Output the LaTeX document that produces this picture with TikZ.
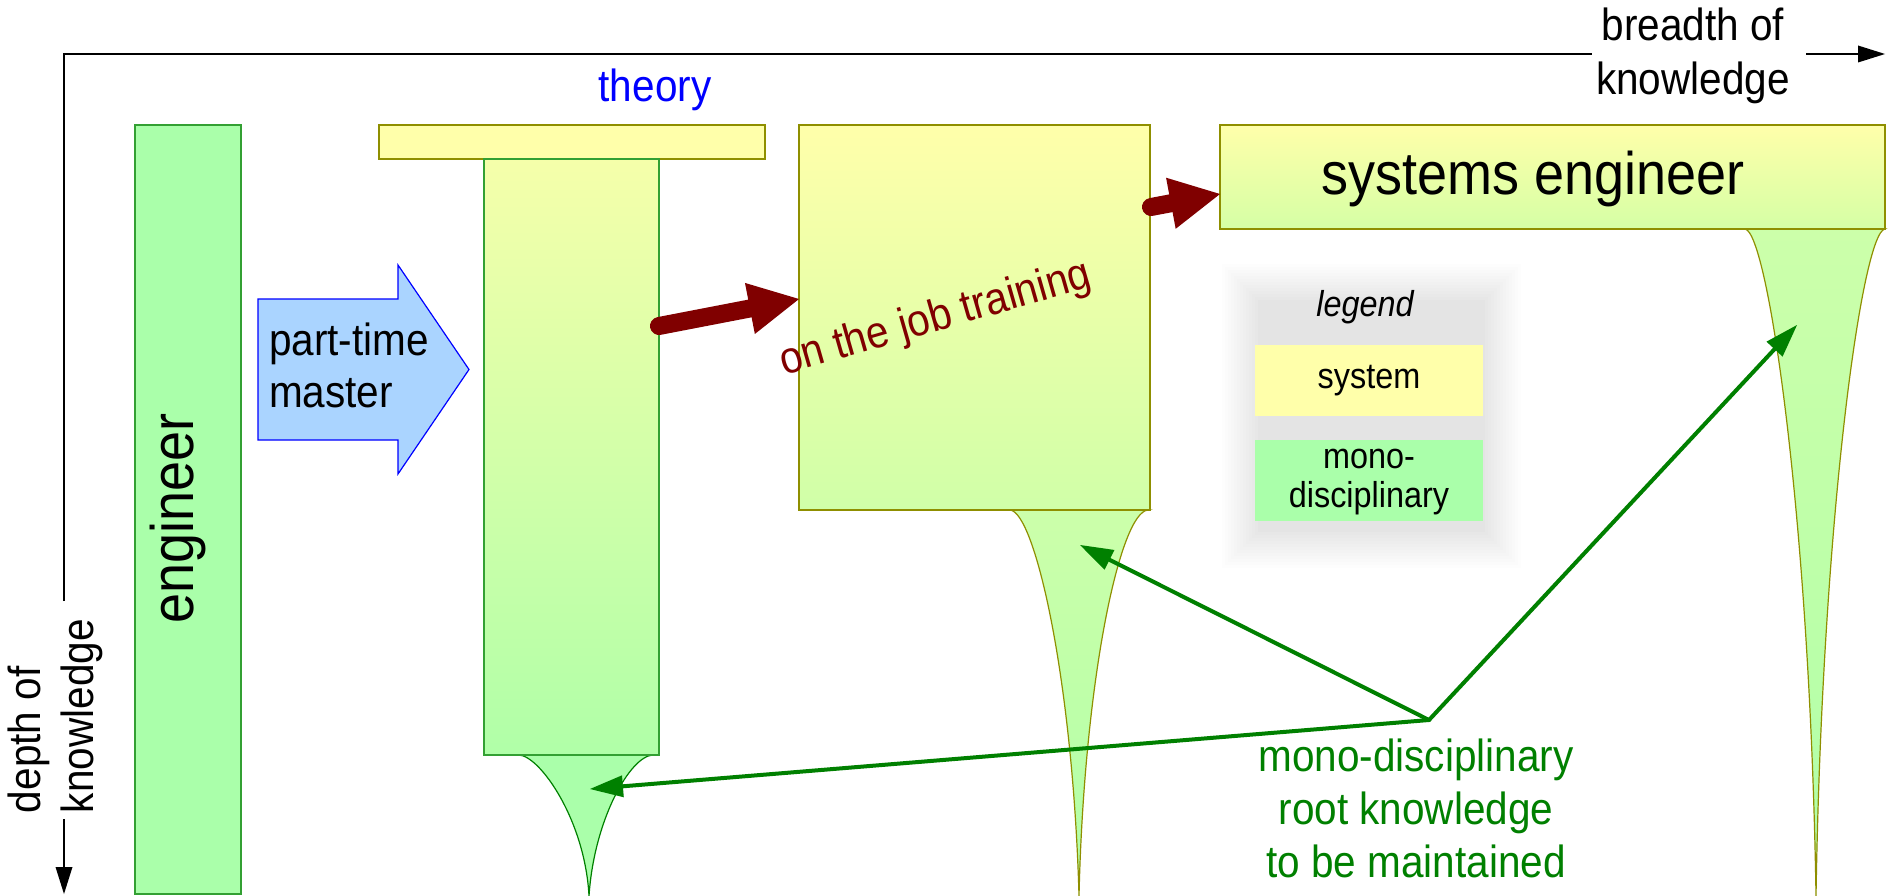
\documentclass[tikz,border=0pt]{standalone}
\usepackage{fontspec}
\setmainfont{Liberation Sans}[FakeStretch=0.9]
\usetikzlibrary{arrows.meta}
\definecolor{sysyellow}{HTML}{FFFFAA}
\definecolor{monogreen}{HTML}{AAFFAA}
\definecolor{midgreen}{HTML}{CCFFAA}
\definecolor{lowgreen}{HTML}{B0FFA8}
\definecolor{segreen}{HTML}{D5FFA5}
\definecolor{ojtgreen}{HTML}{D0FFA8}
\definecolor{colyellow}{HTML}{F5FFAA}
\definecolor{boxolive}{HTML}{8F8F00}
\definecolor{engstroke}{HTML}{33A033}
\definecolor{arrgreen}{HTML}{008000}
\definecolor{ojtred}{HTML}{800000}
\definecolor{ptblue}{HTML}{AAD4FF}
\definecolor{ptstroke}{HTML}{0000FF}
\definecolor{theoryblue}{HTML}{0000FF}
\tikzset{
  box/.style={rectangle, inner sep=0pt, outer sep=0pt, line width=1.2pt},
  engbox/.style={box, fill=monogreen, draw=engstroke},
  sysbar/.style={box, fill=sysyellow, draw=boxolive},
  theorycolumn/.style={box, top color=colyellow, bottom color=lowgreen, draw=engstroke},
  ojtbox/.style={box, top color=sysyellow, bottom color=ojtgreen, draw=boxolive},
  sebox/.style={box, top color=sysyellow, middle color=sysyellow, bottom color=segreen, draw=boxolive},
  legbox/.style={rectangle, inner sep=0pt, outer sep=0pt, font=\fontsize{36}{39}\selectfont},
  theoryfunnel/.style={fill=monogreen, draw=arrgreen, line width=1.2pt},
  rootfunnel/.style={top color=midgreen, bottom color=lowgreen, draw=boxolive, line width=1.2pt},
  ptarrow/.style={fill=ptblue, draw=ptstroke, line width=1.2pt, line join=miter},
  lbl/.style={inner sep=0pt, outer sep=0pt},
  ffortyfive/.style={font=\fontsize{45}{53}\selectfont},
  axisline/.style={line width=2pt, draw=black},
  axistip/.style={-{Triangle[length=27pt,width=17pt,line width=0pt]}},
  redarrow/.style={line width=18pt, draw=ojtred, line cap=round, -{Triangle[length=50pt,width=52pt,line width=0pt]}},
  greenarrow/.style={line width=4pt, draw=arrgreen, line cap=round, -{Triangle[length=33pt,width=22pt,line width=0pt]}},
}
\begin{document}
\begin{tikzpicture}[x=1pt,y=-1pt]
\fill[white] (0,0) rectangle (1889,896);
\useasboundingbox (0,0) rectangle (1889,896);

% axes
\coordinate (origin) at (64,54);
\coordinate (hend) at (1592,54);
\coordinate (hstart) at (1806,54);
\coordinate (htip) at (1885,54);
\coordinate (vend) at (64,601);
\coordinate (vstart) at (64,819);
\coordinate (vtip) at (64,894);
\draw[axisline] (vend) -- (origin) -- (hend);
\draw[axisline, axistip] (hstart) -- (htip);
\draw[axisline, axistip] (vstart) -- (vtip);
\node[lbl, font=\fontsize{45}{54}\selectfont, anchor=base] (breadth) at (1693,41)
  {\begin{tabular}[t]{@{}c@{}}breadth of\\knowledge\end{tabular}};
\node[lbl, ffortyfive, anchor=base west, rotate=90] (depth) at (40,813)
  {\begin{tabular}[t]{@{}l@{}}depth of\\knowledge\end{tabular}};

% root funnels
\path[theoryfunnel] (519,755) .. controls (540,756) and (585,820) .. (589,896)
  .. controls (594,820) and (630,756) .. (653,755) -- cycle;
\path[rootfunnel] (1010,510) .. controls (1035,512) and (1073,680) .. (1079,896)
  .. controls (1084,680) and (1120,512) .. (1148,510) -- cycle;
\path[rootfunnel] (1745,229) .. controls (1768,232) and (1810,520) .. (1816,896)
  .. controls (1822,520) and (1862,232) .. (1885,229) -- cycle;

% engineer
\node[engbox, minimum width=106, minimum height=769] (eng) at (188,509.5) {};
\node[lbl, font=\fontsize{60}{70}\selectfont, rotate=90, anchor=base] (engtext) at (193,518.5) {engineer};

% part-time master
\path[ptarrow] (258,299) -- (398,299) -- (398,265) -- (469,369.5) -- (398,474) -- (398,440) -- (258,440) -- cycle;
\node[lbl, font=\fontsize{45}{52}\selectfont, anchor=base west] (pttext) at (269,355)
  {\begin{tabular}[t]{@{}l@{}}part-time\\master\end{tabular}};

% theory
\node[sysbar, minimum width=386, minimum height=34] (theorybar) at (572,142) {};
\node[theorycolumn, minimum width=175, minimum height=596] (theorycol) at (571.5,457) {};
\node[lbl, ffortyfive, text=theoryblue, anchor=base] (theory) at (655,102) {theory};

% on the job training
\node[ojtbox, minimum width=351, minimum height=385] (ojt) at (974.5,317.5) {};
\node[lbl, ffortyfive, text=ojtred, rotate=16, anchor=base west] (ojttext) at (784,375) {on the job training};

% systems engineer
\node[sebox, minimum width=665, minimum height=104] (se) at (1552.5,177) {};
\node[lbl, font=\fontsize{60}{70}\selectfont, anchor=base] (setext) at (1533,195) {systems engineer};

% red arrows
\coordinate (redAs) at (659,326);
\coordinate (redAe) at (799,299);
\coordinate (redBs) at (1151,207);
\coordinate (redBe) at (1220,194);
\draw[redarrow] (redAs) -- (redAe);
\draw[redarrow] (redBs) -- (redBe);

% legend
\foreach \i in {0,...,12}{
  \pgfmathsetmacro{\d}{36-3*\i}
  \pgfmathsetmacro{\c}{0.8+0.8*\i}
  \fill[black!\c] (1258-\d,300-\d) rectangle (1485+\d,532+\d);
}
\node[lbl, font=\fontsize{36}{39}\selectfont\itshape, anchor=base] (legendtitle) at (1365,316) {legend};
\node[legbox, fill=sysyellow, minimum width=228, minimum height=71] (legsys) at (1369,380.5) {system};
\node[legbox, fill=monogreen, minimum width=228, minimum height=81] (legmono) at (1369,480.5)
  {\begin{tabular}{@{}c@{}}mono-\\disciplinary\end{tabular}};

% green arrows
\coordinate (hub) at (1429,720);
\coordinate (rootA) at (590,789);
\coordinate (rootB) at (1080,545);
\coordinate (rootC) at (1797,325);
\draw[greenarrow] (hub) -- (rootA);
\draw[greenarrow] (hub) -- (rootB);
\draw[greenarrow] (hub) -- (rootC);
\node[lbl, ffortyfive, text=arrgreen, anchor=base] (roottext) at (1416,771)
  {\begin{tabular}[t]{@{}c@{}}mono-disciplinary\\root knowledge\\to be maintained\end{tabular}};
\end{tikzpicture}
\end{document}
